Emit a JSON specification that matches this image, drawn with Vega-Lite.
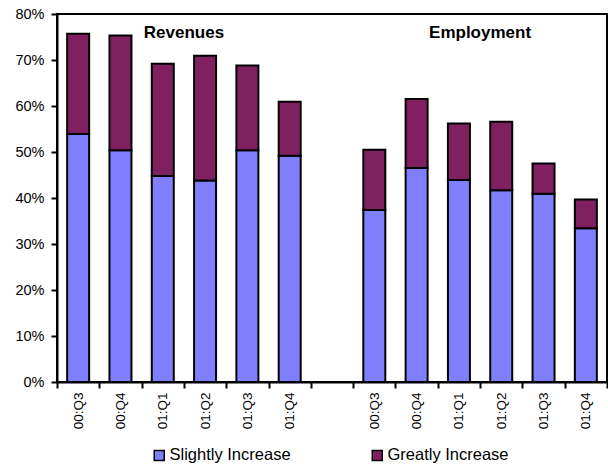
{
  "$schema": "https://vega.github.io/schema/vega-lite/v6.json",
  "autosize": "none",
  "width": 550,
  "height": 368,
  "padding": {"left": 57, "top": 14, "right": 1, "bottom": 84},
  "background": "white",
  "config": {
    "font": "Liberation Sans",
    "view": {"stroke": "black", "strokeWidth": 2},
    "axis": {"domainColor": "black", "domainWidth": 2, "tickColor": "black", "tickWidth": 2, "labelColor": "black", "grid": false, "labelFont": "Liberation Sans"}
  },
  "layer": [
    {
      "data": {"values": [
        {"key": "R00:Q3", "series": "Slightly Increase", "value": 0.539},
        {"key": "R00:Q3", "series": "Greatly Increase", "value": 0.218},
        {"key": "R00:Q4", "series": "Slightly Increase", "value": 0.504},
        {"key": "R00:Q4", "series": "Greatly Increase", "value": 0.249},
        {"key": "R01:Q1", "series": "Slightly Increase", "value": 0.448},
        {"key": "R01:Q1", "series": "Greatly Increase", "value": 0.244},
        {"key": "R01:Q2", "series": "Slightly Increase", "value": 0.438},
        {"key": "R01:Q2", "series": "Greatly Increase", "value": 0.271},
        {"key": "R01:Q3", "series": "Slightly Increase", "value": 0.504},
        {"key": "R01:Q3", "series": "Greatly Increase", "value": 0.184},
        {"key": "R01:Q4", "series": "Slightly Increase", "value": 0.492},
        {"key": "R01:Q4", "series": "Greatly Increase", "value": 0.117},
        {"key": "E00:Q3", "series": "Slightly Increase", "value": 0.374},
        {"key": "E00:Q3", "series": "Greatly Increase", "value": 0.131},
        {"key": "E00:Q4", "series": "Slightly Increase", "value": 0.465},
        {"key": "E00:Q4", "series": "Greatly Increase", "value": 0.150},
        {"key": "E01:Q1", "series": "Slightly Increase", "value": 0.439},
        {"key": "E01:Q1", "series": "Greatly Increase", "value": 0.123},
        {"key": "E01:Q2", "series": "Slightly Increase", "value": 0.417},
        {"key": "E01:Q2", "series": "Greatly Increase", "value": 0.149},
        {"key": "E01:Q3", "series": "Slightly Increase", "value": 0.409},
        {"key": "E01:Q3", "series": "Greatly Increase", "value": 0.066},
        {"key": "E01:Q4", "series": "Slightly Increase", "value": 0.334},
        {"key": "E01:Q4", "series": "Greatly Increase", "value": 0.063}
      ]},
      "mark": {"type": "bar", "width": {"band": 0.52}, "stroke": "black", "strokeWidth": 2},
      "encoding": {
        "x": {
          "field": "key", "type": "nominal",
          "scale": {"domain": ["R00:Q3", "R00:Q4", "R01:Q1", "R01:Q2", "R01:Q3", "R01:Q4", "G", "E00:Q3", "E00:Q4", "E01:Q1", "E01:Q2", "E01:Q3", "E01:Q4"], "paddingInner": 0, "paddingOuter": 0},
          "axis": {"title": null, "labelAngle": -90, "labelExpr": "isString(datum.value) ? substring(datum.value, 1) : ''", "ticks": true, "tickBand": "extent", "tickColor": "black", "tickOpacity": 1, "tickSize": 6, "tickWidth": 2, "labelPadding": 4, "labelFontSize": 13.5}
        },
        "y": {
          "field": "value", "type": "quantitative", "stack": "zero",
          "scale": {"domain": [0, 0.8], "nice": false},
          "axis": {"title": null, "values": [0, 0.1, 0.2, 0.3, 0.4, 0.5, 0.6, 0.7, 0.8], "format": ".0%", "tickSize": 6, "labelPadding": 7, "labelFontSize": 14.5}
        },
        "color": {
          "field": "series", "type": "nominal",
          "scale": {"domain": ["Slightly Increase", "Greatly Increase"], "range": ["#8080FF", "#802060"]},
          "legend": {"title": null, "orient": "none", "legendX": 94, "legendY": 433, "direction": "horizontal", "symbolType": "square", "symbolSize": 100, "symbolStrokeColor": "black", "symbolStrokeWidth": 1.5, "symbolOpacity": 1, "labelFontSize": 16.5, "labelOffset": 2, "columnPadding": 78, "labelColor": "black", "labelFont": "Liberation Sans"}
        },
        "order": {"field": "series", "sort": "descending"}
      }
    },
    {
      "data": {"values": [
        {"key": "R01:Q2", "label": "Revenues"},
        {"key": "E01:Q2", "label": "Employment"}
      ]},
      "mark": {"type": "text", "fontWeight": "bold", "fontSize": 17, "align": "center", "baseline": "alphabetic", "color": "black", "font": "Liberation Sans"},
      "encoding": {
        "x": {"field": "key", "type": "nominal", "bandPosition": 0},
        "y": {"datum": 0.748, "type": "quantitative"},
        "text": {"field": "label"}
      }
    }
  ]
}
